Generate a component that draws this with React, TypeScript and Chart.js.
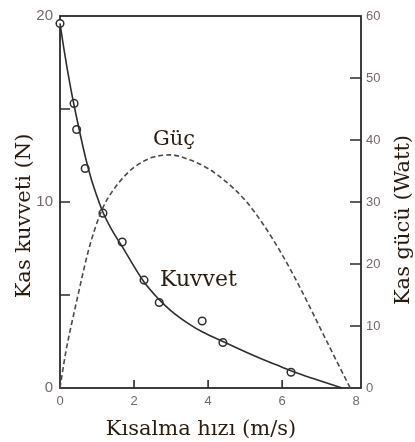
import React, { useEffect, useRef } from 'react';
import { Chart, registerables } from 'chart.js';

Chart.register(...registerables);

// Measured points (circles): shortening speed (m/s) and force (N)
const pointSpeeds = [0, 0.38, 0.45, 0.68, 1.16, 1.68, 2.27, 2.68, 3.84, 4.4, 6.24];
const pointForces = [19.6, 15.3, 13.9, 11.8, 9.4, 7.85, 5.8, 4.6, 3.6, 2.45, 0.85];

// Force curve (solid)
const curveSpeeds = [0, 0.1, 0.2, 0.3, 0.4, 0.55, 0.7, 0.85, 1.0, 1.16, 1.4, 1.68, 2.27, 2.68, 3.0, 3.5, 3.84, 4.4, 5.0, 5.5, 6.0, 6.24, 6.5, 7.0, 7.62];
const curveForces = [19.6, 18.3, 17.1, 16.0, 15.0, 13.6, 12.3, 11.2, 10.3, 9.45, 8.5, 7.6, 5.7, 4.75, 4.15, 3.42, 3.02, 2.5, 1.95, 1.52, 1.12, 0.93, 0.74, 0.4, 0];

// Power curve (dashed), right axis in Watt
const powerSpeeds = [0, 0.15, 0.3, 0.45, 0.6, 0.76, 0.95, 1.16, 1.4, 1.7, 2.0, 2.5, 3.0, 3.5, 4.0, 4.5, 5.0, 5.5, 6.0, 6.5, 7.0, 7.5, 7.84];
const powerWatts = [0, 5.6, 10, 14, 18, 22, 25.8, 29.1, 31.6, 33.9, 35.6, 37.2, 37.6, 36.8, 35.4, 33.2, 30.3, 26.3, 21.5, 16.0, 10.0, 4.0, 0];

// Ticks
const speedTicks = [0, 2, 4, 6, 8];
const forceTicks = [0, 5, 10, 15, 20];
const forceLabels = [0, 10, 20];
const powerTicks = [0, 10, 20, 30, 40, 50, 60];

// Texts
const xTitle = 'Kısalma hızı (m/s)';
const yTitle = 'Kas kuvveti (N)';
const y1Title = 'Kas gücü (Watt)';
const powerLabel = 'Güç';
const forceLabel = 'Kuvvet';

const SERIF = '"DejaVu Serif", "Liberation Serif", serif';
const SANS = '"Liberation Sans", Arial, sans-serif';
const TEXT_COLOR = '#2b1c10';
const TICK_COLOR = '#746670';
const FRAME_COLOR = '#2a2a2a';

const decorPlugin = {
  id: 'decor',
  beforeDatasetsDraw(chart: any) {
    const { ctx, chartArea: a, scales } = chart;
    ctx.save();
    ctx.strokeStyle = FRAME_COLOR;
    ctx.lineWidth = 1.8;
    ctx.strokeRect(a.left, a.top, a.right - a.left, a.bottom - a.top);
    ctx.lineWidth = 1.6;
    ctx.beginPath();
    forceTicks.forEach((v) => {
      const y = scales.y.getPixelForValue(v);
      if (y - a.top > 5 && a.bottom - y > 5) {
        ctx.moveTo(a.left, y);
        ctx.lineTo(a.left + 10, y);
      }
    });
    powerTicks.forEach((v) => {
      const y = scales.y1.getPixelForValue(v);
      if (y - a.top > 5 && a.bottom - y > 5) {
        ctx.moveTo(a.right, y);
        ctx.lineTo(a.right - 11, y);
      }
    });
    speedTicks.forEach((v) => {
      const x = scales.x.getPixelForValue(v);
      if (x - a.left > 6 && a.right - x > 6) {
        ctx.moveTo(x, a.bottom);
        ctx.lineTo(x, a.bottom - 8);
      }
    });
    ctx.stroke();
    ctx.restore();
  },
  afterDraw(chart: any) {
    const { ctx, scales } = chart;
    ctx.save();
    ctx.fillStyle = TEXT_COLOR;
    ctx.font = `21px ${SERIF}`;
    ctx.textBaseline = 'alphabetic';
    ctx.textAlign = 'center';
    ctx.fillText(xTitle, 201, 435);
    ctx.save();
    ctx.translate(30, 216);
    ctx.rotate(-Math.PI / 2);
    ctx.fillText(yTitle, 0, 0);
    ctx.restore();
    ctx.save();
    ctx.translate(409, 220);
    ctx.rotate(-Math.PI / 2);
    ctx.fillText(y1Title, 0, 0);
    ctx.restore();
    ctx.textAlign = 'left';
    ctx.fillText(powerLabel, scales.x.getPixelForValue(2.51), scales.y1.getPixelForValue(39.2));
    ctx.font = `22px ${SERIF}`;
    ctx.fillText(forceLabel, scales.x.getPixelForValue(2.7), scales.y.getPixelForValue(5.46));
    ctx.restore();
  },
};

export default function App() {
  const ref = useRef<HTMLCanvasElement>(null);
  useEffect(() => {
    const canvas = ref.current;
    if (!canvas) return;
    const chart = new Chart(canvas, {
      type: 'line',
      data: {
        datasets: [
          {
            label: powerLabel,
            data: powerSpeeds.map((x, i) => ({ x, y: powerWatts[i] })),
            yAxisID: 'y1',
            borderColor: '#4a4a4a',
            borderWidth: 1.6,
            borderDash: [5, 3],
            pointRadius: 0,
            cubicInterpolationMode: 'monotone',
            fill: false,
            clip: false,
          } as any,
          {
            label: forceLabel,
            data: curveSpeeds.map((x, i) => ({ x, y: curveForces[i] })),
            yAxisID: 'y',
            borderColor: '#2e2e2e',
            borderWidth: 1.6,
            pointRadius: 0,
            cubicInterpolationMode: 'monotone',
            fill: false,
            clip: false,
          } as any,
          {
            label: 'data',
            data: pointSpeeds.map((x, i) => ({ x, y: pointForces[i] })),
            yAxisID: 'y',
            showLine: false,
            pointRadius: 3.8,
            pointBorderWidth: 1.5,
            pointBorderColor: '#2e2e2e',
            pointBackgroundColor: '#ffffff',
            clip: false,
          } as any,
        ],
      },
      options: {
        animation: false,
        responsive: false,
        devicePixelRatio: 1,
        layout: { padding: { top: 11, left: 0, right: 0, bottom: 0 } },
        plugins: { legend: { display: false }, tooltip: { enabled: false } },
        scales: {
          x: {
            type: 'linear',
            position: 'bottom',
            min: 0,
            max: 8.13,
            grid: { display: false, drawTicks: false },
            border: { display: false },
            afterBuildTicks: (s: any) => {
              s.ticks = speedTicks.map((value) => ({ value }));
            },
            afterFit: (s: any) => {
              s.height = 54;
            },
            ticks: {
              padding: 6,
              color: TICK_COLOR,
              font: { family: SANS, size: 13 },
              maxRotation: 0,
              autoSkip: false,
              callback: (v: any) => String(v),
            },
          },
          y: {
            type: 'linear',
            position: 'left',
            min: 0,
            max: 20,
            grid: { display: false, drawTicks: false },
            border: { display: false },
            afterBuildTicks: (s: any) => {
              s.ticks = forceTicks.map((value) => ({ value }));
            },
            afterFit: (s: any) => {
              s.width = 60;
            },
            ticks: {
              padding: 7,
              color: TICK_COLOR,
              font: { family: SANS, size: 15 },
              autoSkip: false,
              callback: (v: any) => (forceLabels.includes(Number(v)) ? String(v) : ''),
            },
          },
          y1: {
            type: 'linear',
            position: 'right',
            min: 0,
            max: 60,
            grid: { display: false, drawTicks: false },
            border: { display: false },
            afterBuildTicks: (s: any) => {
              s.ticks = powerTicks.map((value) => ({ value }));
            },
            afterFit: (s: any) => {
              s.width = 54;
            },
            ticks: {
              padding: 5,
              color: TICK_COLOR,
              font: { family: SANS, size: 13 },
              autoSkip: false,
              callback: (v: any) => String(v),
            },
          },
        },
      },
      plugins: [decorPlugin],
    } as any);
    return () => chart.destroy();
  }, []);

  return (
    <div style={{ position: 'fixed', left: 0, top: 0, width: 415, height: 442, background: '#ffffff' }}>
      <canvas ref={ref} width={415} height={442} style={{ display: 'block', width: 415, height: 442 }} />
    </div>
  );
}
